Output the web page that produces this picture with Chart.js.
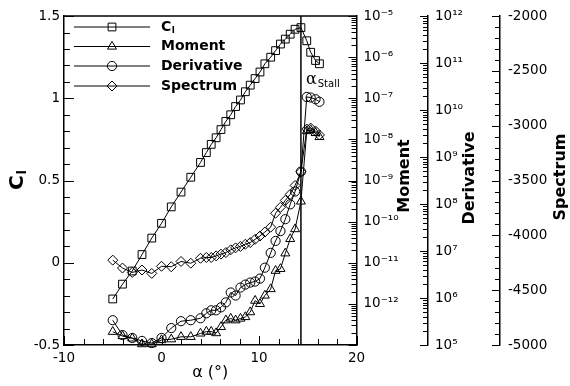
<!DOCTYPE html>
<html><head><meta charset="utf-8">
<script src="https://cdn.jsdelivr.net/npm/chart.js@4/dist/chart.umd.min.js"></script>
<style>html,body{margin:0;padding:0;background:#fff}canvas{display:block}</style>
</head><body>
<canvas id="c" width="570" height="386"></canvas>
<script>
// ---- data ----
const alpha = [-5,-4,-3,-2,-1,0,1,2,3,4,4.6,5.1,5.6,6.1,6.6,7.1,7.6,8.1,8.6,9.1,9.6,10.1,10.6,11.2,11.7,12.2,12.7,13.2,13.7,14.3,14.9,15.3,15.8,16.2];
const cl = [-0.22,-0.13,-0.05,0.05,0.15,0.24,0.34,0.43,0.52,0.61,0.67,0.72,0.76,0.81,0.86,0.90,0.95,0.99,1.04,1.08,1.12,1.16,1.21,1.25,1.29,1.33,1.36,1.39,1.42,1.43,1.35,1.28,1.23,1.21];
const moment = [2.1e-13,1.65e-13,1.45e-13,1.05e-13,1.05e-13,1.32e-13,1.38e-13,1.58e-13,1.58e-13,1.91e-13,2.12e-13,2.12e-13,1.95e-13,2.75e-13,4.0e-13,4.4e-13,4.0e-13,4.4e-13,4.8e-13,6.3e-13,1.2e-12,1.0e-12,1.6e-12,2.3e-12,6.4e-12,7.1e-12,1.7e-11,3.8e-11,6.6e-11,3.1e-10,1.6e-8,1.7e-8,1.44e-8,1.15e-8];
const derivative = [3.37e5,1.63e5,1.41e5,1.22e5,1.10e5,1.41e5,2.29e5,3.21e5,3.37e5,3.71e5,4.73e5,5.47e5,5.47e5,6.33e5,8.07e5,1.31e6,1.13e6,1.67e6,1.93e6,2.13e6,2.24e6,2.59e6,4.42e6,9.14e6,1.64e7,2.66e7,4.76e7,9.86e7,1.85e8,4.90e8,1.9e10,1.85e10,1.7e10,1.5e10];
const spectrum = [-4226,-4298,-4338,-4316,-4347,-4282,-4286,-4238,-4254,-4209,-4202,-4202,-4187,-4171,-4157,-4132,-4114,-4101,-4081,-4066,-4036,-4006,-3970,-3925,-3798,-3744,-3681,-3626,-3545,-3419,-3030,-3021,-3048,-3084];
const seriesLabels = ['Cl','Moment','Derivative','Spectrum'];
const xRange = [-10, 20];
const clRange = [-0.5, 1.5];
const momentRange = [1e-13, 1e-5];
const derivRange = [1e5, 1e12];
const spectrumRange = [-5000, -2000];
const stallAlpha = 14.3;

const F = "'DejaVu Sans', sans-serif";
const SUP = {'-':'\u207B','0':'\u2070','1':'\u00B9','2':'\u00B2','3':'\u00B3','4':'\u2074','5':'\u2075','6':'\u2076','7':'\u2077','8':'\u2078','9':'\u2079'};
function powLabel(v, skipExp){
  const e = Math.log10(v); const r = Math.round(e);
  if (Math.abs(e - r) > 1e-6 || r === skipExp) return '';
  return '10' + String(r).split('').map(c => SUP[c]).join('');
}
function pts(ys){ return alpha.map((a,i)=>({x:a, y:ys[i]})); }

const styles = [
  {pointStyle:'rect', r:5.5},
  {pointStyle:'triangle', r:5.2},
  {pointStyle:'circle', r:4.6},
  {pointStyle:'rectRot', r:5}
];
function ds(i, ys, axis){
  return {label:seriesLabels[i], data:pts(ys), yAxisID:axis, borderColor:'#000', borderWidth:1,
    pointStyle:styles[i].pointStyle, pointRadius:styles[i].r, pointHoverRadius:styles[i].r,
    pointBorderColor:'#000', pointBackgroundColor:'rgba(0,0,0,0)', pointBorderWidth:1,
    tension:0, fill:false, clip:8};
}

function line(ctx,x1,y1,x2,y2){ ctx.beginPath(); ctx.moveTo(x1,y1); ctx.lineTo(x2,y2); ctx.stroke(); }
function vtext(ctx, txt, x, y, font){
  ctx.save(); ctx.translate(x,y); ctx.rotate(-Math.PI/2);
  ctx.font = font; ctx.textAlign='center'; ctx.textBaseline='middle'; ctx.fillText(txt,0,0); ctx.restore();
}

const decor = {
  id:'decor',
  beforeDatasetsDraw(chart){
    const {ctx, chartArea:a, scales:{x}} = chart;
    const sx = x.getPixelForValue(stallAlpha);
    ctx.save(); ctx.strokeStyle='#000'; ctx.lineWidth=1.5;
    line(ctx, sx, a.top, sx, a.bottom); ctx.restore();
  },
  afterDraw(chart){
    const {ctx, chartArea:a, scales:s} = chart;
    ctx.save();
    ctx.strokeStyle='#000'; ctx.fillStyle='#000';
    ctx.lineWidth=1.5; line(ctx, a.left, a.top, a.right, a.top);
    ctx.lineWidth=1;
    // x ticks (inward)
    for (let v=xRange[0]; v<=xRange[1]; v+=2){
      const p = Math.round(s.x.getPixelForValue(v))+0.5;
      line(ctx, p, a.bottom, p, a.bottom-(v%10===0?9:6));
    }
    // Cl ticks
    for (let i=-5; i<=15; i++){
      const p = Math.round(s.y.getPixelForValue(i/10))+0.5;
      line(ctx, a.left, p, a.left+(i%5===0?10:6), p);
    }
    // log ticks
    function logTicks(scale, x0, lo, hi){
      for (let e=Math.round(Math.log10(lo)); e<=Math.round(Math.log10(hi)); e++){
        for (let k=1;k<=9;k++){
          const v = k*Math.pow(10,e); if (v>hi*1.0001) break;
          const p = Math.round(scale.getPixelForValue(v))+0.5;
          line(ctx, x0, p, x0-(k===1?8:5), p);
        }
      }
    }
    logTicks(s.yM, a.right, momentRange[0], momentRange[1]);
    logTicks(s.yD, s.yD.left, derivRange[0], derivRange[1]);
    for (let v=spectrumRange[0]; v<=spectrumRange[1]; v+=100){
      const p = Math.round(s.yS.getPixelForValue(v))+0.5;
      line(ctx, s.yS.left, p, s.yS.left-(v%500===0?8:5), p);
    }
    // alpha stall label
    const sx = s.x.getPixelForValue(stallAlpha);
    ctx.textAlign='left'; ctx.textBaseline='alphabetic';
    ctx.font = "16px 'DejaVu Serif', serif"; ctx.fillText('\u03B1', sx+5, 84);
    const aw = ctx.measureText('\u03B1').width;
    ctx.font = "10px "+F; ctx.fillText('Stall', sx+5+aw+1, 87);
    // legend
    const rows = [27, 46.5, 66, 86];
    const helpers = Chart.helpers;
    rows.forEach((y,i)=>{
      ctx.lineWidth=1; ctx.strokeStyle='#000';
      line(ctx, 74, y, 150, y);
      ctx.fillStyle='rgba(0,0,0,0)';
      if (helpers && helpers.drawPoint) {
        helpers.drawPoint(ctx, {pointStyle:styles[i].pointStyle, radius:styles[i].r, borderWidth:1, rotation:0}, 112, y);
      }
      ctx.fillStyle='#000';
      ctx.textAlign='left'; ctx.textBaseline='middle';
      ctx.font = "bold 14px "+F;
      const lab = seriesLabels[i];
      if (lab === 'Cl') {
        ctx.fillText('C', 161, y);
        const w = ctx.measureText('C').width;
        ctx.font = "bold 9px "+F; ctx.fillText('l', 161+w+0.5, y+4);
      } else ctx.fillText(lab, 161, y);
    });
    // axis titles
    ctx.fillStyle='#000';
    ctx.save(); ctx.translate(18, 180); ctx.rotate(-Math.PI/2);
    ctx.textBaseline='middle'; ctx.textAlign='left';
    ctx.font = "bold 20px "+F; const cw = ctx.measureText('C').width;
    ctx.font = "bold 13px "+F; const lw = ctx.measureText('l').width;
    const start = -(cw+lw+1)/2;
    ctx.font = "bold 20px "+F; ctx.fillText('C', start, 0);
    ctx.font = "bold 13px "+F; ctx.fillText('l', start+cw+1, 5);
    ctx.restore();
    vtext(ctx, seriesLabels[1], 405, 176, "bold 16px "+F);
    vtext(ctx, seriesLabels[2], 470, 178, "bold 16px "+F);
    vtext(ctx, seriesLabels[3], 561, 177, "bold 16px "+F);
    ctx.restore();
  }
};

const tickFont = {family:F, size:13.5};
const noGrid = {display:true, drawTicks:false, drawOnChartArea:false, color:'rgba(0,0,0,0)'};
const border = {display:true, color:'#000', width:1.5};

new Chart(document.getElementById('c'), {
  type:'line',
  data:{datasets:[ds(0,cl,'y'), ds(1,moment,'yM'), ds(2,derivative,'yD'), ds(3,spectrum,'yS')]},
  options:{
    responsive:false, animation:false, devicePixelRatio:1,
    layout:{padding:{top:13, left:0, right:0, bottom:0}},
    plugins:{legend:{display:false}, tooltip:{enabled:false}},
    scales:{
      x:{type:'linear', position:'bottom', min:xRange[0], max:xRange[1], grid:noGrid, border:border,
         ticks:{stepSize:10, color:'#000', font:tickFont, padding:5, callback:v=>String(v)},
         title:{display:true, text:'\u03B1 (\u00B0)', color:'#000', font:{family:F, size:16}, padding:{top:0,bottom:4}},
         afterFit(sc){ sc.height = 41; }},
      y:{type:'linear', position:'left', min:clRange[0], max:clRange[1], grid:noGrid, border:border,
         ticks:{stepSize:0.5, color:'#000', font:tickFont, padding:4, callback:v=>String(+v.toFixed(2))},
         afterFit(sc){ sc.width = 64; }},
      yM:{type:'logarithmic', position:'right', min:momentRange[0], max:momentRange[1], grid:noGrid, border:border,
         ticks:{autoSkip:false, color:'#000', font:tickFont, padding:7, callback:v=>powLabel(v,-13)},
         afterFit(sc){ sc.width = 71.5; }},
      yD:{type:'logarithmic', position:'right', min:derivRange[0], max:derivRange[1], grid:noGrid, border:border,
         ticks:{autoSkip:false, color:'#000', font:tickFont, padding:7, callback:v=>powLabel(v,null)},
         afterFit(sc){ sc.width = 72; }},
      yS:{type:'linear', position:'right', min:spectrumRange[0], max:spectrumRange[1], grid:noGrid, border:border,
         ticks:{stepSize:500, color:'#000', font:tickFont, padding:8, callback:v=>String(v)},
         afterFit(sc){ sc.width = 70; }}
    }
  },
  plugins:[decor]
});
</script>
</body></html>
